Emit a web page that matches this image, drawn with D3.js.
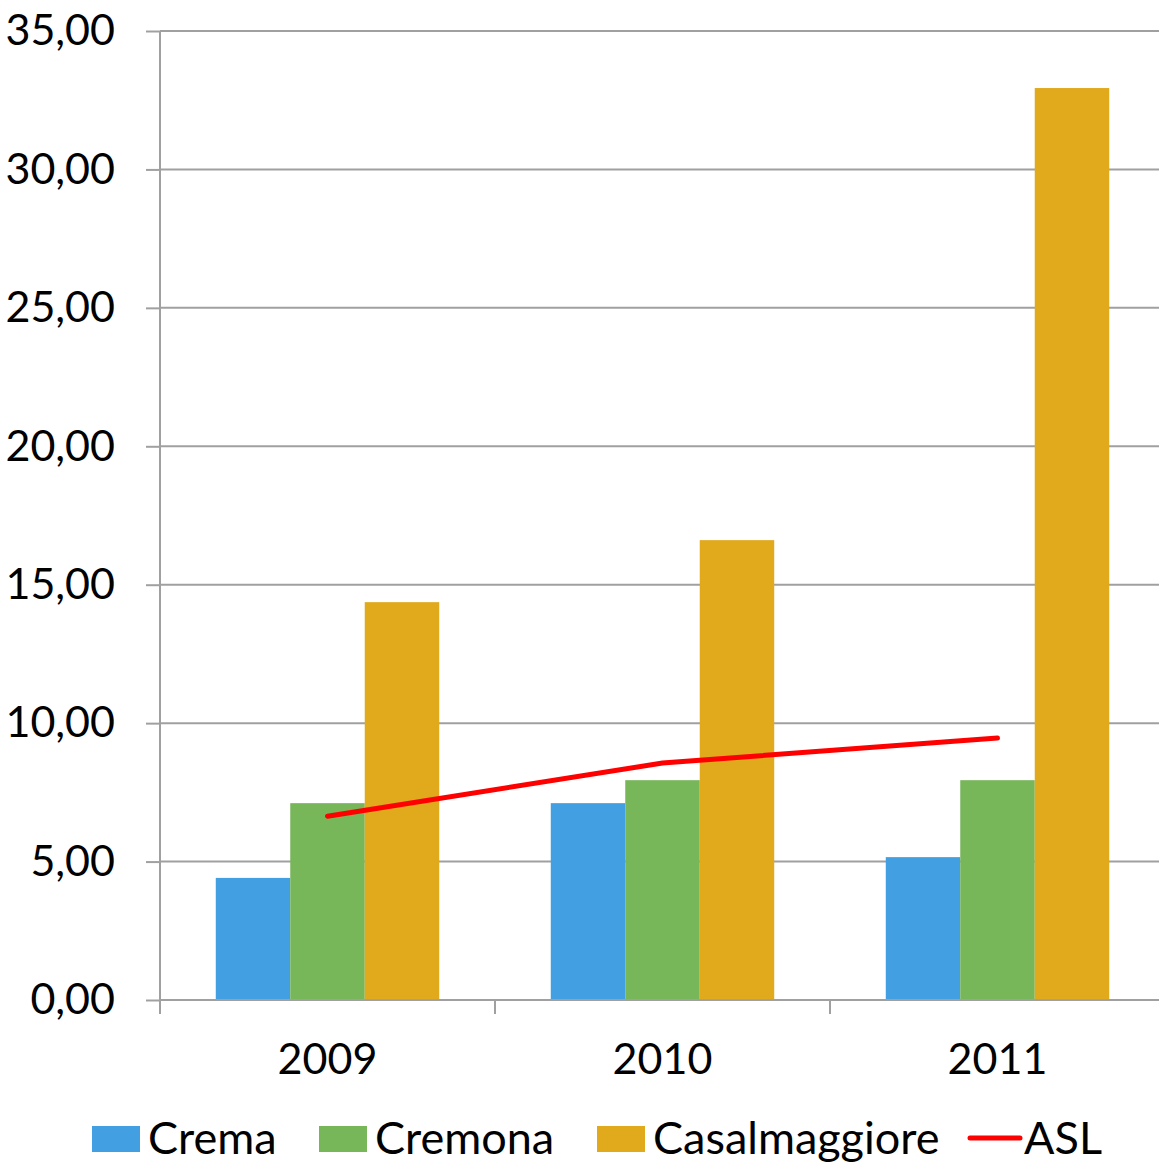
<!DOCTYPE html>
<html><head><meta charset="utf-8">
<script src="https://cdn.jsdelivr.net/npm/d3@7"></script>
<style>body{margin:0;background:#fff}svg{display:block}</style>
</head><body>
<script>
const categories = ["2009","2010","2011"];
const seriesNames = ["Crema","Cremona","Casalmaggiore"];
const crema = [4.41, 7.11, 5.16];
const cremona = [7.11, 7.94, 7.94];
const casalmaggiore = [14.37, 16.61, 32.94];
const asl = [6.64, 8.56, 9.46];
const yTicks = [0,5,10,15,20,25,30,35];
const colors = ["#419fe2","#78b65a","#e1a91c"];
const lineColor = "#ff0000";

(function(){
const W = 1159, H = 1163;
const svg = d3.select("body").append("svg").attr("width",W).attr("height",H);
const font = "Lato, 'Open Sans', sans-serif";
const pLeft = 160, pTop = 31, pBottom = 1000, pRight = 1165;

const y = d3.scaleLinear().domain([0,35]).range([pBottom, pTop]);
const x = d3.scaleBand().domain(categories).range([pLeft, pRight]).paddingInner(0).paddingOuter(0);
const bw = x.bandwidth();
const groupW = bw * 0.667;
const inner = d3.scaleBand().domain(seriesNames).range([(bw-groupW)/2, (bw+groupW)/2]).padding(0);

// gridlines
svg.append("g").selectAll("line").data(yTicks.filter(d=>d>0)).join("line")
  .attr("x1", pLeft).attr("x2", W).attr("y1", d=>y(d)).attr("y2", d=>y(d))
  .attr("stroke","#a0a0a0").attr("stroke-width",2);

// bars
const data = [crema, cremona, casalmaggiore];
seriesNames.forEach((s,i)=>{
  svg.append("g").selectAll("rect").data(categories).join("rect")
    .attr("x", c=> x(c) + inner(s))
    .attr("width", inner.bandwidth())
    .attr("y", (c,j)=> y(data[i][j]))
    .attr("height", (c,j)=> y(0) - y(data[i][j]))
    .attr("fill", colors[i]);
});

// y axis
const yAxis = d3.axisLeft(y).tickValues(yTicks).tickSize(14).tickPadding(31)
  .tickFormat(d=> d3.format(".2f")(d).replace(".", ","));
const ya = svg.append("g").attr("transform",`translate(${pLeft},0)`).call(yAxis);
ya.select(".domain").attr("stroke","#a0a0a0").attr("stroke-width",2).attr("d",`M0,${pTop}V${pBottom}`);
ya.selectAll(".tick line").attr("stroke","#a0a0a0").attr("stroke-width",2);
ya.selectAll("text").attr("font-family",font).attr("font-size",43).attr("fill","#000");

// x axis
const xa = svg.append("g").attr("transform",`translate(0,${pBottom})`);
xa.append("line").attr("x1",pLeft).attr("x2",W).attr("y1",0).attr("y2",0).attr("stroke","#a0a0a0").attr("stroke-width",2);
xa.selectAll("line.t").data(categories).join("line").attr("class","t")
  .attr("x1",c=>x(c)).attr("x2",c=>x(c)).attr("y1",0).attr("y2",14).attr("stroke","#a0a0a0").attr("stroke-width",2);
xa.selectAll("text").data(categories).join("text")
  .attr("x", c=> x(c)+bw/2).attr("y", 74).attr("text-anchor","middle")
  .attr("font-family",font).attr("font-size",43).attr("fill","#000").text(d=>d);

// ASL line
const line = d3.line().x((d,i)=> x(categories[i]) + bw/2).y(d=> y(d));
svg.append("path").datum(asl).attr("d", line).attr("fill","none")
  .attr("stroke", lineColor).attr("stroke-width",5).attr("stroke-linecap","round");

// legend
const lg = svg.append("g").attr("font-family",font).attr("font-size",45).attr("fill","#000");
const legendItems = [
  {name:seriesNames[0], x:92, type:"rect", c:colors[0]},
  {name:seriesNames[1], x:319, type:"rect", c:colors[1]},
  {name:seriesNames[2], x:597, type:"rect", c:colors[2]},
  {name:"ASL", x:968, type:"line", c:lineColor}
];
legendItems.forEach(it=>{
  if(it.type==="rect") lg.append("rect").attr("x",it.x).attr("y",1126).attr("width",48).attr("height",26).attr("fill",it.c);
  else lg.append("line").attr("x1",it.x+2).attr("x2",it.x+52).attr("y1",1138).attr("y2",1138).attr("stroke",it.c).attr("stroke-width",5).attr("stroke-linecap","round");
  lg.append("text").attr("x", it.x + 56).attr("y", 1154).text(it.name);
});
})();
</script>
</body></html>
